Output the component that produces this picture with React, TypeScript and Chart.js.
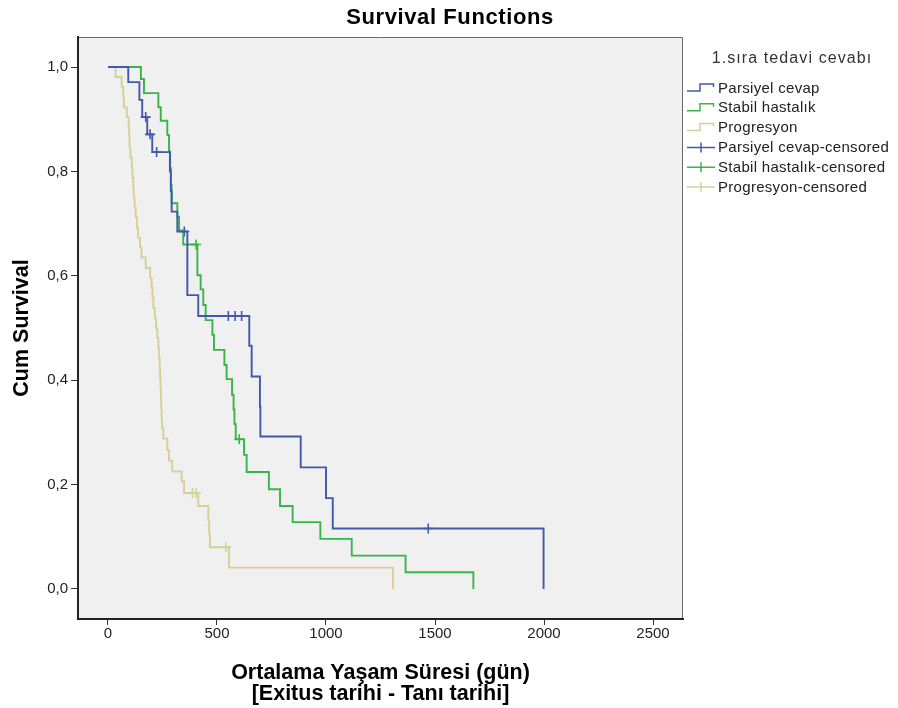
import React, { useEffect, useRef } from 'react';
import { Chart, registerables } from 'chart.js';

Chart.register(...registerables);

// ---- Data ----
const groupLabels = ['Parsiyel cevap', 'Stabil hastalık', 'Progresyon'];
const censorSuffix = '-censored';
const groupColors = ['#4159AD', '#38B54A', '#D5D09A'];

const parsiyelTimes = [0, 93, 144, 157, 180, 203, 284, 288, 292, 318, 364, 414, 648, 659, 697, 699, 884, 1000, 1031, 1998];
const parsiyelSurv = [1, 0.971, 0.937, 0.904, 0.871, 0.837, 0.8, 0.762, 0.723, 0.685, 0.563, 0.523, 0.466, 0.407, 0.349, 0.292, 0.233, 0.174, 0.116, 0];

const stabilTimes = [0, 151, 165, 231, 242, 272, 280, 285, 289, 292, 318, 326, 345, 410, 425, 437, 448, 479, 486, 534, 544, 569, 576, 580, 586, 624, 636, 738, 789, 847, 974, 1118, 1365, 1676];
const stabilSurv = [1, 0.977, 0.95, 0.923, 0.897, 0.87, 0.838, 0.806, 0.774, 0.739, 0.713, 0.687, 0.66, 0.601, 0.574, 0.544, 0.515, 0.487, 0.458, 0.429, 0.402, 0.372, 0.344, 0.316, 0.287, 0.257, 0.224, 0.191, 0.159, 0.128, 0.096, 0.064, 0.032, 0];

const progTimes = [0, 35, 63, 70, 73, 86, 95, 97, 99, 103, 109, 112, 116, 118, 122, 127, 133, 138, 147, 154, 173, 193, 200, 204, 208, 215, 220, 226, 231, 234, 237, 239, 241, 243, 244, 246, 248, 254, 272, 280, 295, 338, 349, 414, 460, 464, 468, 555, 1307];
const progSurv = [1, 0.981, 0.962, 0.942, 0.923, 0.904, 0.885, 0.865, 0.846, 0.827, 0.808, 0.788, 0.769, 0.75, 0.731, 0.712, 0.692, 0.673, 0.654, 0.635, 0.615, 0.596, 0.577, 0.558, 0.538, 0.519, 0.5, 0.481, 0.462, 0.442, 0.423, 0.404, 0.385, 0.365, 0.346, 0.327, 0.308, 0.288, 0.266, 0.246, 0.225, 0.206, 0.184, 0.159, 0.132, 0.106, 0.08, 0.041, 0];

const parsiyelCensTimes = [173, 193, 223, 350, 552, 583, 613, 1469];
const parsiyelCensSurv = [0.904, 0.871, 0.837, 0.685, 0.523, 0.523, 0.523, 0.116];
const stabilCensTimes = [404, 602];
const stabilCensSurv = [0.66, 0.287];
const progCensTimes = [387, 404, 541];
const progCensSurv = [0.184, 0.184, 0.08];

const xTickValues = [0, 500, 1000, 1500, 2000, 2500];
const yTickValues = [0, 0.2, 0.4, 0.6, 0.8, 1.0];

const chartTitle = 'Survival Functions';
const legendTitle = '1.sıra tedavi cevabı';
const xTitle = ['Ortalama Yaşam Süresi (gün)', '[Exitus tarihi - Tanı tarihi]'];
const yTitle = 'Cum Survival';

const FONT = "'Liberation Sans', Arial, sans-serif";

const toPts = (t: number[], s: number[]) => t.map((x, i) => ({ x, y: s[i] }));

const curveSets = [
  [parsiyelTimes, parsiyelSurv],
  [stabilTimes, stabilSurv],
  [progTimes, progSurv],
];
const censorSets = [
  [parsiyelCensTimes, parsiyelCensSurv],
  [stabilCensTimes, stabilCensSurv],
  [progCensTimes, progCensSurv],
];

const bgPlugin = {
  id: 'bgPlugin',
  beforeDraw(chart: any) {
    const { ctx, chartArea: a, width, height } = chart;
    ctx.save();
    ctx.fillStyle = '#ffffff';
    ctx.fillRect(0, 0, width, height);
    ctx.fillStyle = '#F0F0F0';
    ctx.fillRect(a.left, a.top, a.right - a.left, a.bottom - a.top);
    ctx.strokeStyle = '#6a6a6a';
    ctx.lineWidth = 1;
    ctx.beginPath();
    ctx.moveTo(a.left, a.top + 0.5);
    ctx.lineTo(a.right - 0.5, a.top + 0.5);
    ctx.lineTo(a.right - 0.5, a.bottom);
    ctx.stroke();
    ctx.restore();
  },
};

const legendPlugin = {
  id: 'kmLegend',
  afterDraw(chart: any) {
    const { ctx } = chart;
    const ds = chart.data.datasets;
    ctx.save();
    // chart title
    (ctx as any).letterSpacing = '0.6px';
    ctx.fillStyle = '#000';
    ctx.font = `bold 22px ${FONT}`;
    ctx.textAlign = 'center';
    ctx.textBaseline = 'middle';
    ctx.fillText(chartTitle, 450, 18);
    // legend title
    (ctx as any).letterSpacing = '1.1px';
    ctx.fillStyle = '#333';
    ctx.font = `16px ${FONT}`;
    ctx.fillText(legendTitle, 792, 59);
    (ctx as any).letterSpacing = '0.3px';
    ctx.font = `15px ${FONT}`;
    ctx.textAlign = 'left';
    ds.forEach((d: any, i: number) => {
      const y = 88 + i * 19.8;
      ctx.strokeStyle = d.borderColor;
      ctx.lineWidth = 1.5;
      ctx.beginPath();
      if (d.kind === 'curve') {
        ctx.moveTo(687, y + 3);
        ctx.lineTo(700, y + 3);
        ctx.lineTo(700, y - 4);
        ctx.lineTo(713.5, y - 4);
        ctx.lineTo(713.5, y - 1);
      } else {
        ctx.moveTo(687, y);
        ctx.lineTo(715, y);
        ctx.moveTo(701, y - 5);
        ctx.lineTo(701, y + 5);
      }
      ctx.stroke();
      ctx.fillStyle = '#222';
      ctx.fillText(d.label, 718, y + 0.5);
    });
    ctx.restore();
  },
};

export default function App() {
  const ref = useRef<HTMLCanvasElement>(null);
  useEffect(() => {
    const curveDatasets = curveSets.map(([t, s], i) => ({
      type: 'line' as const,
      kind: 'curve',
      label: groupLabels[i],
      data: toPts(t, s),
      stepped: 'before' as const,
      borderColor: groupColors[i],
      backgroundColor: groupColors[i],
      borderWidth: 1.9,
      pointRadius: 0,
      fill: false,
      tension: 0,
    }));
    const censorDatasets = censorSets.map(([t, s], i) => ({
      type: 'line' as const,
      kind: 'censor',
      label: groupLabels[i] + censorSuffix,
      data: toPts(t, s),
      showLine: false,
      borderColor: groupColors[i],
      backgroundColor: groupColors[i],
      pointStyle: 'cross',
      pointRadius: 5,
      pointBorderWidth: 1.6,
      borderWidth: 1.6,
    }));
    const chart = new Chart(ref.current!, {
      type: 'line',
      data: { datasets: [...curveDatasets, ...censorDatasets] as any },
      options: {
        responsive: false,
        animation: false,
        devicePixelRatio: 1,
        layout: { padding: { left: 0, right: 215, top: 37, bottom: 0 } },
        plugins: {
          legend: { display: false },
          tooltip: { enabled: false },
          title: { display: false },
        },
        scales: {
          x: {
            type: 'linear',
            min: -137.6,
            max: 2637.6,
            afterFit: (s: any) => { s.height = 89; },
            afterBuildTicks: (s: any) => { s.ticks = xTickValues.map((v) => ({ value: v })); },
            ticks: {
              font: { family: FONT, size: 15 },
              color: '#222',
              padding: 0,
              maxRotation: 0,
              callback: (v: any) => String(v),
            },
            grid: { drawOnChartArea: false, drawTicks: true, tickLength: 6, color: '#333', tickWidth: 1 },
            border: { display: true, color: '#222', width: 2 },
            title: {
              display: true,
              text: xTitle,
              color: '#000',
              font: { family: FONT, size: 21.5, weight: 'bold', lineHeight: 0.95 },
              padding: { top: 0, bottom: 4 },
            },
          },
          y: {
            type: 'linear',
            min: -0.0575,
            max: 1.0575,
            afterFit: (s: any) => { s.width = 78; },
            afterBuildTicks: (s: any) => { s.ticks = yTickValues.map((v) => ({ value: v })); },
            ticks: {
              font: { family: FONT, size: 15 },
              color: '#222',
              padding: 3,
              callback: (v: any) => Number(v).toFixed(1).replace('.', ','),
            },
            grid: { drawOnChartArea: false, drawTicks: true, tickLength: 7, color: '#333', tickWidth: 1 },
            border: { display: true, color: '#222', width: 2 },
            title: {
              display: true,
              text: yTitle,
              color: '#000',
              font: { family: FONT, size: 21.5, weight: 'bold', lineHeight: 1.0 },
              padding: { top: 11, bottom: 0 },
            },
          },
        },
      },
      plugins: [bgPlugin, legendPlugin],
    } as any);
    return () => chart.destroy();
  }, []);
  return (
    <div style={{ position: 'absolute', left: 0, top: 0, width: 898, height: 708, background: '#fff' }}>
      <canvas ref={ref} width={898} height={708} style={{ display: 'block' }} />
    </div>
  );
}
